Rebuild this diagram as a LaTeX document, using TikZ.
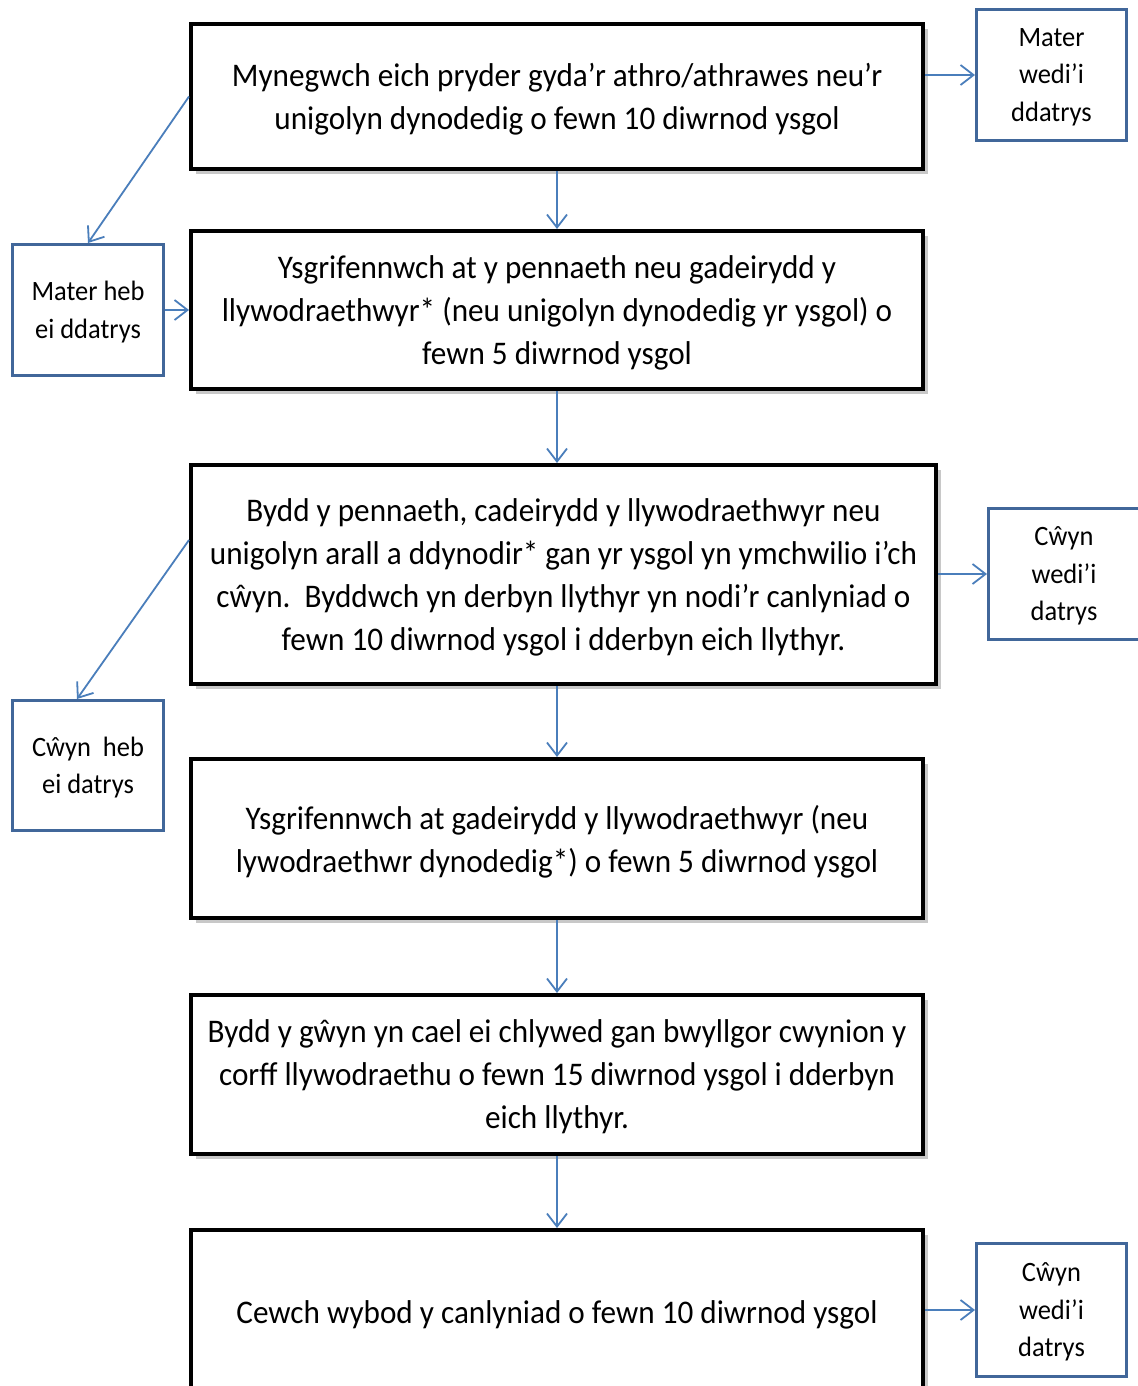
\documentclass[tikz,border=0pt]{standalone}
\usepackage{fontspec}
\setmainfont{Carlito}[FakeStretch=0.945]
\usetikzlibrary{arrows.meta,shadows}
\definecolor{sideblue}{HTML}{41679A}
\definecolor{arrblue}{HTML}{4A7EBB}
\tikzset{
  mainbox/.style={draw=black, line width=2pt, fill=white, inner sep=0pt, align=center,
    text depth=0pt, font=\fontsize{16.5}{21.5}\selectfont,
    drop shadow={opacity=0.3, shadow xshift=2.5pt, shadow yshift=-2.5pt, fill=black!70}},
  sidebox/.style={draw=sideblue, line width=1.5pt, fill=white, inner sep=0pt, align=center,
    text depth=0pt, font=\fontsize{14}{18.75}\selectfont, minimum width=75.5pt, minimum height=65.5pt},
  conn/.style={draw=arrblue, line width=0.9pt, -{Straight Barb[length=6.5pt,width=10pt,line width=0.9pt]}}
}
\begin{document}
\begin{tikzpicture}[x=0.5pt,y=-0.5pt]
\useasboundingbox (0,0) rectangle (1138,1386);
\clip (0,0) rectangle (1138,1386);
\fill[white] (0,0) rectangle (1138,1386);
% main boxes
\node[mainbox, minimum width=366pt, minimum height=72.5pt] (b1) at (557,96.5)
  {Mynegwch eich pryder gyda’r athro/athrawes neu’r\\unigolyn dynodedig o fewn 10 diwrnod ysgol};
\node[mainbox, minimum width=366pt, minimum height=79pt] (b2) at (557,310)
  {Ysgrifennwch at y pennaeth neu gadeirydd y\\llywodraethwyr* (neu unigolyn dynodedig yr ysgol) o\\fewn 5 diwrnod ysgol};
\node[mainbox, minimum width=372.5pt, minimum height=109.5pt] (b3) at (563.5,574.5)
  {Bydd y pennaeth, cadeirydd y llywodraethwyr neu\\unigolyn arall a ddynodir* gan yr ysgol yn ymchwilio i’ch\\cŵyn.\ \ Byddwch yn derbyn llythyr yn nodi’r canlyniad o\\fewn 10 diwrnod ysgol i dderbyn eich llythyr.};
\node[mainbox, minimum width=366pt, minimum height=79.5pt] (b4) at (557,838.5)
  {Ysgrifennwch at gadeirydd y llywodraethwyr (neu\\lywodraethwr dynodedig*) o fewn 5 diwrnod ysgol};
\node[mainbox, minimum width=366pt, minimum height=79.5pt] (b5) at (557,1074.5)
  {Bydd y gŵyn yn cael ei chlywed gan bwyllgor cwynion y\\corff llywodraethu o fewn 15 diwrnod ysgol i dderbyn\\eich llythyr.};
\node[mainbox, minimum width=366pt, minimum height=82pt] (b6) at (557,1312)
  {Cewch wybod y canlyniad o fewn 10 diwrnod ysgol};
% side boxes
\node[sidebox, minimum width=75pt] (sa) at (1051.5,75) {Mater\\wedi’i\\ddatrys};
\node[sidebox] (sb) at (88,310) {Mater heb\\ei ddatrys};
\node[sidebox] (sc) at (1064,574) {Cŵyn\\wedi’i\\datrys};
\node[sidebox, minimum height=65pt] (sd) at (88,765.5) {Cŵyn\ \ heb\\ei datrys};
\node[sidebox, minimum width=75pt, minimum height=66.5pt] (se) at (1051.5,1310) {Cŵyn\\wedi’i\\datrys};
% helper coordinates
\coordinate (b3l) at (189,540);
\coordinate (sdt) at (77,699);
% vertical connectors
\draw[conn] (b1.south) -- (b2.north);
\draw[conn] (b2.south) -- (b2.south |- b3.north);
\draw[conn] (b4.north |- b3.south) -- (b4.north);
\draw[conn] (b4.south) -- (b5.north);
\draw[conn] (b5.south) -- (b6.north);
% side connectors
\draw[conn] (sa.west -| b1.east) -- (sa.west);
\draw[conn] (sb.east) -- (b2.west);
\draw[conn] (sc.west -| b3.east) -- (sc.west);
\draw[conn] (se.west -| b6.east) -- (se.west);
\draw[conn] (b1.west) -- (sb.north);
\draw[conn] (b3l) -- (sdt);
\end{tikzpicture}
\end{document}
